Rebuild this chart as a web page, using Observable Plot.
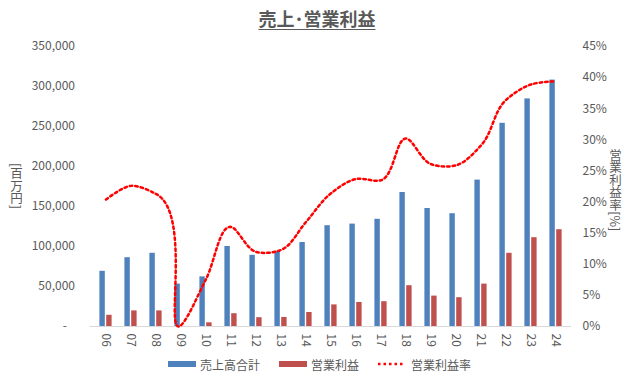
<!DOCTYPE html>
<html>
<head>
<meta charset="utf-8">
<script src="https://cdn.jsdelivr.net/npm/d3@7"></script>
<script src="https://cdn.jsdelivr.net/npm/@observablehq/plot@0.6"></script>
<style>
  html, body { margin: 0; padding: 0; background: #fff; }
  #wrap { position: relative; width: 632px; height: 380px; overflow: hidden; font-family: "Noto Sans CJK JP", "Noto Sans", sans-serif; color: #595959; }
  #title { position: absolute; left: 0; top: 6px; width: 634px; text-align: center; font-size: 18px; line-height: 24px; font-weight: bold; text-decoration: underline; text-underline-offset: 3px; color: #595959; }
  #chart { position: absolute; left: 0; top: 30px; }
  .vlabel { position: absolute; writing-mode: vertical-rl; font-size: 12.5px; line-height: 14px; color: #595959; transform: translate(-50%, -50%); white-space: nowrap; }
  .leg { position: absolute; top: 355px; height: 18px; display: flex; align-items: center; font-size: 12px; color: #595959; white-space: nowrap; }
  .sw { display: inline-block; width: 28px; height: 6px; margin-right: 4px; }
</style>
</head>
<body>
<div id="wrap">
  <div id="title">売上･営業利益</div>
  <div id="chart"></div>
  <div class="vlabel" style="left:16px; top:186px;">[百万円]</div>
  <div class="vlabel" style="left:615px; top:190px;">営業利益率[%]</div>
  <div id="legend"></div>
</div>
<script>
const years = ["06","07","08","09","10","11","12","13","14","15","16","17","18","19","20","21","22","23","24"];
const sales = [69000, 86000, 91500, 53000, 62000, 100000, 89000, 94000, 105000, 126000, 128000, 134000, 167500, 147500, 141000, 183000, 254000, 284500, 308000];
const profit = [14000, 19500, 19500, 100, 4600, 16000, 11000, 11300, 17500, 27000, 30000, 31000, 51000, 38000, 36000, 53000, 91500, 111000, 121000];
const margin = [20.4, 22.6, 21.3, 0.2, 7.6, 16.0, 12.0, 12.3, 16.8, 21.4, 23.7, 23.5, 30.2, 26.1, 25.9, 29.1, 36.4, 38.9, 39.4];
const leftTicks = [0, 50000, 100000, 150000, 200000, 250000, 300000, 350000];
const rightTicks = [0, 5, 10, 15, 20, 25, 30, 35, 40, 45];
const seriesNames = ["売上高合計", "営業利益", "営業利益率"];

const yMax = 350000, pMax = 45;
const K = yMax / pMax;
const data = years.map((y, i) => ({year: y, sales: sales[i], profit: profit[i], margin: margin[i]}));

const chart = Plot.plot({
  width: 632,
  height: 325,
  marginLeft: 89.5,
  marginRight: 61,
  marginTop: 16,
  marginBottom: 29,
  style: {fontFamily: '"Noto Sans CJK JP", "Noto Sans", sans-serif', fontSize: "12px", color: "#595959", background: "transparent"},
  x: {type: "band", domain: years, padding: 0},
  y: {domain: [0, yMax]},
  marks: [
    Plot.axisY(leftTicks, {tickSize: 0, tickPadding: 15, tickFormat: v => v === 0 ? "-   " : d3.format(",")(v), label: null, fill: "#595959"}),
    Plot.axisY(rightTicks.map(p => p * K), {anchor: "right", tickSize: 0, tickPadding: 11, tickFormat: v => Math.round(v / K) + "%", label: null, fill: "#595959"}),
    Plot.axisX({tickRotate: 90, tickSize: 0, tickPadding: 7, label: null, fill: "#595959"}),
    Plot.barY(data, {x: "year", y: "sales", fill: "#4F81BD", insetLeft: 6.4, insetRight: 13.2}),
    Plot.barY(data, {x: "year", y: "profit", fill: "#C0504D", insetLeft: 13.2, insetRight: 6.4}),
    Plot.ruleY([0], {stroke: "#d9d9d9", strokeWidth: 1}),
    Plot.line(data, {x: "year", y: d => d.margin * K, stroke: "#ff0000", strokeWidth: 2.5, strokeDasharray: "2.5,3", curve: d3.curveCatmullRom.alpha(1)})
  ]
});
document.getElementById("chart").appendChild(chart);

const legend = document.getElementById("legend");
const items = [
  {left: 168, html: `<span class="sw" style="background:#4F81BD"></span>${seriesNames[0]}`},
  {left: 279, html: `<span class="sw" style="background:#C0504D"></span>${seriesNames[1]}`},
  {left: 377, html: `<svg width="28" height="6" style="margin-right:6px"><line x1="1" y1="3" x2="27" y2="3" stroke="#ff0000" stroke-width="2.5" stroke-dasharray="2.5,3"/></svg>${seriesNames[2]}`}
];
for (const it of items) {
  const d = document.createElement("div");
  d.className = "leg";
  d.style.left = it.left + "px";
  d.innerHTML = it.html;
  legend.appendChild(d);
}
</script>
</body>
</html>
